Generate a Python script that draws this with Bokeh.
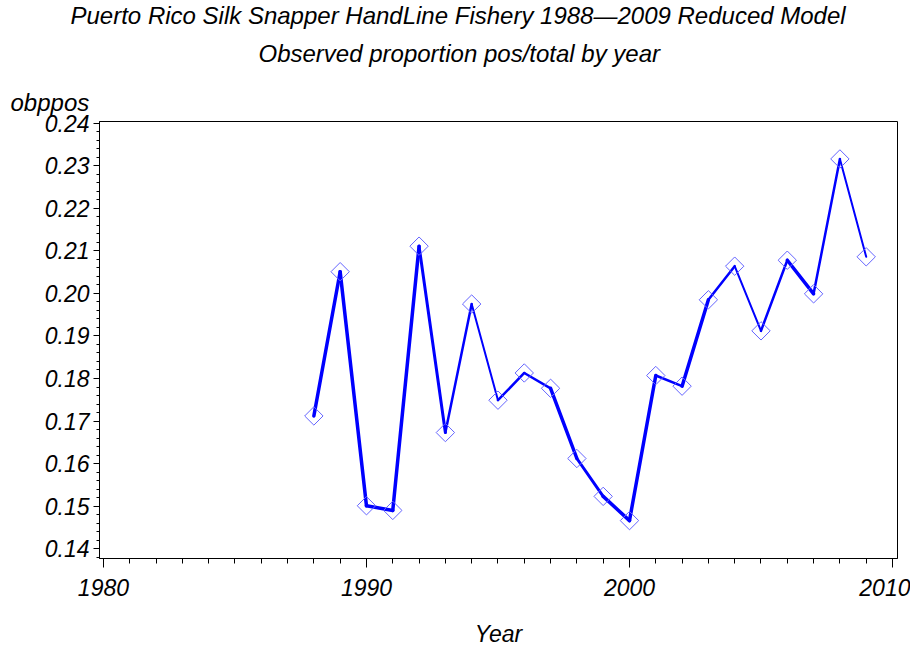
import math
from bokeh.plotting import figure
from bokeh.models import (ColumnDataSource, FixedTicker, PrintfTickFormatter, Title)
from bokeh.embed import file_html
from bokeh.resources import INLINE

# ---- data ----
years = [1988, 1989, 1990, 1991, 1992, 1993, 1994, 1995, 1996, 1997, 1998,
         1999, 2000, 2001, 2002, 2003, 2004, 2005, 2006, 2007, 2008, 2009]
obppos = [0.1712, 0.2051, 0.1501, 0.1490, 0.2111, 0.1673, 0.1975, 0.1749,
          0.1813, 0.1777, 0.1612, 0.1523, 0.1466, 0.1807, 0.1782, 0.1985,
          0.2064, 0.1912, 0.2078, 0.1999, 0.2316, 0.2086]
x_major = [1980, 1990, 2000, 2010]
x_minor = [y for y in range(1980, 2011)]
y_major = [0.14, 0.15, 0.16, 0.17, 0.18, 0.19, 0.20, 0.21, 0.22, 0.23, 0.24]
y_minor = [round(0.138 + 0.002 * i, 3) for i in range(52)]

title1 = "Puerto Rico Silk Snapper HandLine Fishery 1988\u20142009 Reduced Model"
title2 = "Observed proportion pos/total by year"
ylab = "obppos"
xlab = "Year"

# segment widths (style)
seg_widths = [3.5, 3.5, 3.5, 3.5, 3, 2.5, 2, 2.5, 2.5, 3.5, 3, 3.5, 3.5, 2.5,
              3.5, 2.5, 2, 2.5, 3.5, 2.5, 2]

FONT = "Liberation Sans"
X0, X1 = 1979.85, 2010.19
Y0, Y1 = 0.1377, 0.2404

W, H = 910, 649
ML, MR, MT, MB = 99, 13, 121, 89

p = figure(width=W, height=H, x_range=(X0, X1), y_range=(Y0, Y1),
           output_backend="svg", toolbar_location=None,
           min_border_left=ML, min_border_right=MR,
           min_border_top=MT, min_border_bottom=MB)
p.grid.visible = False
p.outline_line_color = "black"
p.outline_line_width = 1
p.background_fill_color = "white"
p.border_fill_color = "white"

# axes
xa = p.xaxis[0]
xa.ticker = FixedTicker(ticks=x_major, minor_ticks=x_minor)
xa.formatter = PrintfTickFormatter(format="%d")
xa.major_tick_in = 0
xa.major_tick_out = 9
xa.minor_tick_in = 0
xa.minor_tick_out = 5
xa.major_label_standoff = 11
xa.major_label_text_font = FONT
xa.major_label_text_font_style = "italic"
xa.major_label_text_font_size = "23px"
xa.major_label_text_color = "black"
xa.axis_line_color = "black"
xa.axis_label = xlab
xa.axis_label_standoff = 22
xa.axis_label_text_font = FONT
xa.axis_label_text_font_style = "italic"
xa.axis_label_text_font_size = "23px"
xa.axis_label_text_color = "black"

ya = p.yaxis[0]
ya.ticker = FixedTicker(ticks=y_major, minor_ticks=y_minor)
ya.formatter = PrintfTickFormatter(format="%.2f")
ya.major_tick_in = 0
ya.major_tick_out = 6
ya.minor_tick_in = 0
ya.minor_tick_out = 3
ya.major_label_standoff = 4
ya.major_label_text_font = FONT
ya.major_label_text_font_style = "italic"
ya.major_label_text_font_size = "23px"
ya.major_label_text_color = "black"
ya.axis_line_color = "black"

# line segments
src = ColumnDataSource(dict(x0=years[:-1], y0=obppos[:-1], x1=years[1:], y1=obppos[1:],
                            w=seg_widths))
p.segment(x0="x0", y0="y0", x1="x1", y1="y1", line_width="w", source=src,
          line_color="#0000ff", line_cap="round")

p.scatter(years, obppos, marker="square", size=13, angle=math.pi / 4,
          fill_color=None, line_color="#6464ff", line_width=1)

# titles (first added = closest to the frame)
def mk_title(text, offset=0, standoff=0):
    return Title(text=text, align="left", offset=offset, standoff=standoff,
                 text_font=FONT, text_font_style="italic", text_font_size="24px",
                 text_color="black")

p.add_layout(mk_title(ylab, offset=-89, standoff=12), "above")
p.add_layout(mk_title(title2, offset=159, standoff=27), "above")
p.add_layout(mk_title(title1, offset=-29, standoff=-8), "above")

open("out.html", "w").write(file_html(p, INLINE))
